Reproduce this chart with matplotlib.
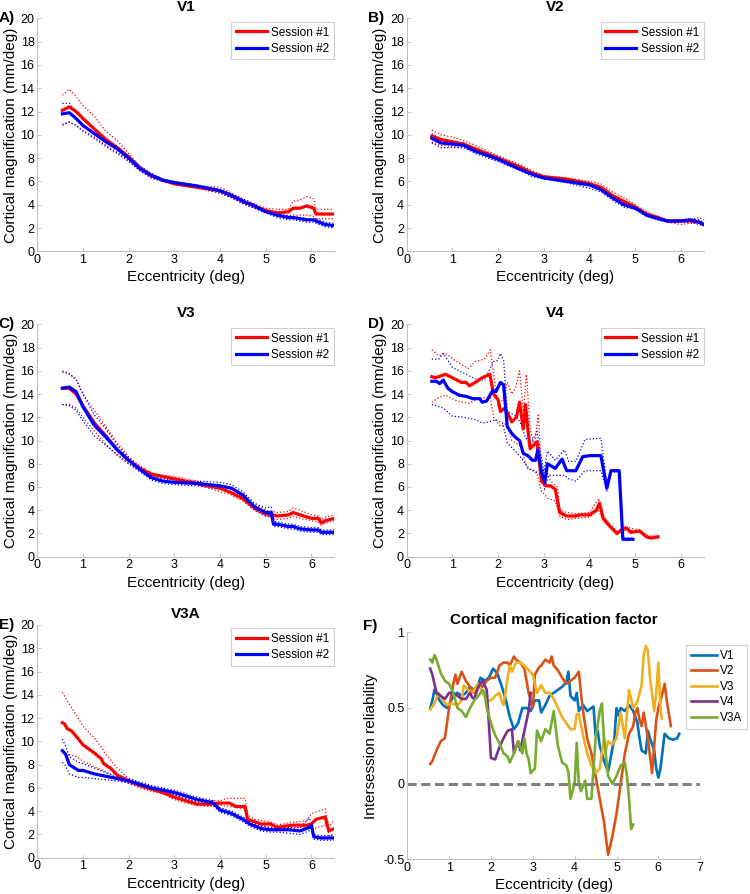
import matplotlib
matplotlib.use("Agg")
import matplotlib.pyplot as plt

plt.rcParams['font.family'] = ['Liberation Sans', 'DejaVu Sans']

# ---- V1 (panel A) ----
v1_x = [0.55, 0.7, 0.85, 1.0, 1.25, 1.5, 1.75, 2.0, 2.25, 2.5, 2.75, 3.0, 3.5, 4.0, 4.25,
        4.5, 4.75, 5.0, 5.25, 5.5, 5.6, 5.75, 5.9, 6.05, 6.1, 6.3, 6.5]
v1_s1 = [12.1, 12.4, 12.0, 11.4, 10.5, 9.6, 8.9, 8.1, 7.1, 6.5, 6.1, 5.8, 5.5, 5.2, 4.8,
         4.3, 3.9, 3.5, 3.3, 3.4, 3.7, 3.7, 3.9, 3.7, 3.2, 3.2, 3.2]
v1_s1_hi = [13.4, 13.9, 13.3, 12.5, 11.6, 10.3, 9.5, 8.4, 7.3, 6.6, 6.2, 5.9, 5.6, 5.5, 5.0,
            4.5, 4.1, 3.7, 3.6, 3.6, 4.3, 4.4, 4.7, 4.5, 3.6, 3.6, 3.6]
v1_s1_lo = [10.8, 11.1, 10.8, 10.4, 9.8, 9.1, 8.5, 7.8, 6.9, 6.3, 6.0, 5.7, 5.4, 5.0, 4.6,
            4.1, 3.7, 3.3, 3.1, 3.1, 3.1, 3.1, 3.1, 3.0, 2.8, 2.8, 2.8]
v1_s2 = [11.8, 11.9, 11.4, 10.8, 10.1, 9.4, 8.8, 8.0, 7.1, 6.5, 6.1, 5.9, 5.6, 5.2, 4.8,
         4.3, 3.9, 3.4, 3.1, 2.9, 2.9, 2.8, 2.7, 2.7, 2.6, 2.3, 2.2]
v1_s2_hi = [12.7, 12.7, 12.0, 11.3, 10.5, 9.7, 9.0, 8.2, 7.3, 6.7, 6.2, 6.0, 5.7, 5.3, 4.9,
            4.5, 4.0, 3.5, 3.2, 3.0, 3.0, 2.9, 2.8, 2.8, 2.8, 2.5, 2.4]
v1_s2_lo = [10.9, 11.1, 10.8, 10.3, 9.7, 9.0, 8.4, 7.7, 6.9, 6.3, 6.0, 5.8, 5.5, 5.0, 4.6,
            4.1, 3.7, 3.3, 2.9, 2.7, 2.7, 2.6, 2.5, 2.5, 2.4, 2.1, 2.0]

# ---- V2 (panel B) ----
v2_x = [0.55, 0.75, 1.0, 1.25, 1.5, 2.0, 2.5, 2.75, 3.0, 3.5, 4.0, 4.25, 4.5, 4.75, 5.0,
        5.25, 5.5, 5.7, 6.0, 6.2, 6.4, 6.5]
v2_s1 = [9.9, 9.6, 9.4, 9.2, 8.8, 8.0, 7.2, 6.7, 6.4, 6.2, 5.8, 5.5, 4.8, 4.3, 3.8,
         3.2, 2.9, 2.6, 2.6, 2.6, 2.5, 2.3]
v2_s1_hi = [10.4, 10.0, 9.8, 9.5, 9.1, 8.2, 7.4, 6.9, 6.5, 6.3, 6.0, 5.8, 5.1, 4.6, 4.0,
            3.4, 3.0, 2.7, 2.7, 2.7, 2.9, 2.7]
v2_s1_lo = [9.4, 9.1, 9.0, 8.9, 8.5, 7.8, 7.0, 6.6, 6.3, 6.1, 5.6, 5.3, 4.6, 4.1, 3.7,
            3.1, 2.8, 2.5, 2.3, 2.4, 2.4, 2.2]
v2_s2 = [9.7, 9.3, 9.2, 9.1, 8.6, 7.9, 7.0, 6.6, 6.3, 6.0, 5.7, 5.3, 4.6, 4.0, 3.7,
         3.1, 2.8, 2.6, 2.6, 2.7, 2.5, 2.3]
v2_s2_hi = [10.1, 9.6, 9.4, 9.3, 8.8, 8.1, 7.2, 6.8, 6.4, 6.2, 5.9, 5.5, 4.8, 4.2, 3.8,
            3.2, 2.9, 2.7, 2.7, 2.8, 2.7, 2.5]
v2_s2_lo = [9.3, 8.9, 8.9, 8.9, 8.4, 7.7, 6.9, 6.4, 6.2, 5.9, 5.4, 5.1, 4.4, 3.8, 3.6,
            3.0, 2.7, 2.5, 2.5, 2.5, 2.3, 2.2]

# ---- V3 (panel C) ----
v3_x = [0.55, 0.7, 0.85, 1.0, 1.25, 1.5, 1.75, 2.0, 2.25, 2.5, 2.75, 3.0, 3.5, 4.0, 4.25,
        4.5, 4.75, 5.0, 5.12, 5.17, 5.25, 5.5, 5.6, 5.75, 6.0, 6.15, 6.22, 6.3, 6.5]
v3_s1 = [14.5, 14.5, 14.0, 13.0, 11.5, 10.4, 9.2, 8.3, 7.6, 7.1, 6.9, 6.7, 6.3, 5.9, 5.5,
         5.0, 4.2, 3.7, 3.6, 3.6, 3.5, 3.6, 3.8, 3.6, 3.3, 3.3, 2.9, 3.1, 3.3]
v3_s1_hi = [16.0, 15.8, 15.2, 14.0, 12.6, 11.2, 9.8, 8.6, 7.8, 7.2, 7.0, 6.9, 6.5, 6.0, 5.8,
            5.3, 4.5, 4.0, 3.9, 3.9, 3.8, 3.9, 4.2, 4.0, 3.6, 3.5, 3.2, 3.4, 3.6]
v3_s1_lo = [13.1, 13.1, 12.8, 12.0, 10.8, 9.7, 8.7, 8.0, 7.4, 7.0, 6.8, 6.6, 6.2, 5.6, 5.3,
            4.8, 4.0, 3.5, 3.4, 3.3, 3.2, 3.3, 3.5, 3.3, 3.1, 3.0, 2.7, 2.9, 3.1]
v3_s2 = [14.5, 14.6, 14.2, 12.9, 11.3, 10.3, 9.2, 8.3, 7.5, 6.8, 6.5, 6.4, 6.3, 6.1, 5.9,
         5.3, 4.3, 3.8, 3.8, 2.8, 2.8, 2.6, 2.6, 2.4, 2.3, 2.3, 2.1, 2.1, 2.1]
v3_s2_hi = [15.9, 15.7, 15.3, 14.0, 12.2, 11.0, 9.6, 8.5, 7.7, 7.0, 6.7, 6.6, 6.5, 6.4, 6.2,
            5.6, 4.6, 4.2, 4.3, 3.0, 3.0, 2.8, 2.8, 2.6, 2.5, 2.5, 2.3, 2.3, 2.3]
v3_s2_lo = [13.1, 13.0, 12.6, 11.7, 10.4, 9.6, 8.8, 8.0, 7.3, 6.6, 6.3, 6.2, 6.1, 5.8, 5.6,
            5.0, 4.0, 3.5, 3.4, 2.6, 2.6, 2.4, 2.4, 2.2, 2.1, 2.1, 1.9, 1.9, 1.9]

# ---- V4 (panel D) ----
v4_s1_x = [0.55, 0.62, 0.7, 0.85, 1.0, 1.2, 1.3, 1.37, 1.5, 1.65, 1.82, 1.9, 2.0, 2.05, 2.15,
           2.3, 2.4, 2.47, 2.55, 2.6, 2.65, 2.7, 2.85, 2.95, 3.05, 3.15, 3.25, 3.35, 3.5, 3.7,
           3.8, 4.0, 4.15, 4.22, 4.3, 4.45, 4.6, 4.7, 4.8, 4.9, 5.1, 5.25, 5.35, 5.5]
v4_s1 = [15.5, 15.4, 15.5, 15.7, 15.4, 15.0, 15.0, 14.7, 15.0, 15.4, 15.7, 14.0, 13.5, 12.5, 12.8,
         11.6, 12.0, 13.3, 11.0, 13.1, 11.0, 9.3, 9.9, 6.5, 6.1, 6.1, 5.8, 3.8, 3.5, 3.5,
         3.6, 3.6, 4.0, 4.6, 3.3, 2.6, 2.0, 2.3, 2.5, 2.1, 2.2, 1.7, 1.6, 1.7]
v4_s1_hi_x = [0.55, 0.7, 0.85, 1.05, 1.35, 1.5, 1.7, 1.83, 1.9, 2.0, 2.1, 2.2, 2.3, 2.38, 2.47,
              2.55, 2.62, 2.7, 2.8, 2.88, 2.95, 3.05, 3.15, 3.3, 3.35, 3.5, 3.7, 4.0, 4.2, 4.3,
              4.45, 4.6, 4.7, 4.85, 5.1, 5.3, 5.5]
v4_s1_hi = [17.8, 17.3, 17.5, 16.9, 16.2, 16.8, 17.0, 17.8, 15.8, 13.0, 13.5, 15.0, 14.0, 14.5, 16.0,
            12.5, 15.7, 11.0, 9.5, 12.3, 7.5, 7.5, 6.5, 6.0, 4.0, 3.8, 3.7, 3.8, 5.0, 3.5,
            2.8, 2.2, 2.4, 2.5, 2.3, 1.8, 1.8]
v4_s1_lo_x = [0.55, 0.7, 0.85, 1.1, 1.35, 1.5, 1.7, 1.83, 1.9, 2.05, 2.2, 2.3, 2.5, 2.6, 2.7,
              2.85, 2.95, 3.1, 3.25, 3.35, 3.5, 3.7, 4.0, 4.2, 4.3, 4.45, 4.6, 4.7, 4.85, 5.1,
              5.3, 5.5]
v4_s1_lo = [13.3, 13.7, 13.9, 13.4, 13.2, 13.5, 13.7, 13.7, 12.0, 11.2, 11.5, 10.0, 9.5, 8.0, 7.5,
            7.2, 5.6, 5.0, 4.8, 3.5, 3.2, 3.3, 3.4, 4.0, 3.1, 2.5, 1.9, 2.2, 2.3, 2.1,
            1.6, 1.6]
v4_s2_x = [0.55, 0.65, 0.72, 0.8, 0.9, 1.0, 1.15, 1.3, 1.45, 1.6, 1.65, 1.75, 1.88, 1.95, 2.05,
           2.12, 2.2, 2.3, 2.4, 2.47, 2.55, 2.65, 2.75, 2.82, 2.87, 2.95, 3.02, 3.08, 3.25, 3.4,
           3.5, 3.7, 3.85, 4.0, 4.25, 4.38, 4.47, 4.65, 4.73, 4.95]
v4_s2 = [15.1, 15.1, 14.9, 15.2, 14.5, 14.2, 13.9, 13.8, 13.6, 13.6, 13.3, 13.4, 14.3, 14.2, 15.0,
         14.8, 11.2, 10.6, 10.2, 10.0, 8.9, 8.7, 8.3, 8.3, 9.2, 7.3, 6.4, 8.0, 7.6, 8.4,
         7.4, 7.4, 8.6, 8.7, 8.7, 5.9, 7.4, 7.4, 1.5, 1.5]
v4_s2_hi_x = [0.55, 0.7, 0.8, 1.0, 1.25, 1.5, 1.7, 1.9, 2.0, 2.05, 2.12, 2.2, 2.4, 2.5, 2.6,
              2.75, 2.85, 2.95, 3.0, 3.08, 3.25, 3.45, 3.55, 3.7, 3.9, 4.25, 4.38, 4.47, 4.65, 4.73,
              4.95]
v4_s2_hi = [17.0, 17.0, 17.5, 16.3, 15.8, 15.3, 15.2, 16.8, 16.9, 17.5, 16.9, 12.5, 12.1, 11.4, 10.2,
            10.0, 10.8, 8.5, 7.2, 9.1, 8.3, 9.2, 8.2, 8.2, 10.1, 10.2, 6.2, 7.5, 7.5, 1.6,
            1.6]
v4_s2_lo_x = [0.55, 0.8, 1.0, 1.25, 1.5, 1.65, 1.8, 1.95, 2.1, 2.2, 2.4, 2.55, 2.65, 2.8, 2.95,
              3.02, 3.1, 3.25, 3.45, 3.55, 3.7, 3.9, 4.25, 4.38, 4.47, 4.65, 4.73, 4.95]
v4_s2_lo = [13.1, 12.8, 12.1, 12.0, 11.8, 11.5, 11.6, 11.8, 11.5, 9.8, 9.0, 8.3, 7.6, 7.4, 7.0,
            5.8, 7.0, 7.0, 7.0, 6.7, 6.5, 7.4, 7.4, 5.6, 7.3, 7.3, 1.4, 1.4]

# ---- V3A (panel E) ----
v3a_s1_x = [0.55, 0.6, 0.65, 0.75, 0.9, 1.0, 1.25, 1.4, 1.45, 1.6, 1.75, 2.0, 2.25, 2.5, 2.75,
            3.0, 3.25, 3.5, 3.75, 4.0, 4.2, 4.35, 4.55, 4.6, 4.75, 4.9, 5.1, 5.25, 5.4, 5.6,
            5.9, 6.0, 6.1, 6.3, 6.38, 6.5]
v3a_s1 = [11.6, 11.5, 11.1, 10.9, 10.2, 9.7, 9.0, 8.5, 8.1, 7.7, 7.1, 6.6, 6.2, 5.9, 5.6,
          5.2, 4.9, 4.6, 4.6, 4.7, 4.7, 4.4, 4.4, 3.3, 3.1, 2.9, 2.9, 2.6, 2.7, 2.8,
          2.8, 2.9, 3.3, 3.5, 2.3, 2.5]
v3a_s1_hi_x = [0.55, 0.7, 0.85, 1.0, 1.25, 1.4, 1.5, 1.75, 2.0, 2.25, 2.5, 2.75, 3.0, 3.25, 3.5,
               3.75, 4.0, 4.15, 4.55, 4.6, 4.75, 4.9, 5.1, 5.25, 5.5, 5.75, 5.9, 6.0, 6.15, 6.3,
               6.38, 6.5]
v3a_s1_hi = [14.2, 13.2, 12.3, 11.3, 10.3, 9.5, 8.9, 7.7, 6.8, 6.4, 6.1, 5.8, 5.4, 5.1, 4.8,
             4.9, 4.9, 5.1, 5.1, 3.7, 3.3, 3.2, 3.1, 2.8, 3.0, 3.1, 3.2, 3.8, 4.0, 4.2,
             2.7, 3.2]
v3a_s1_lo_x = [0.55, 0.65, 0.85, 1.0, 1.25, 1.5, 1.75, 2.0, 2.25, 2.5, 2.75, 3.0, 3.25, 3.5, 3.75,
               4.0, 4.2, 4.55, 4.6, 4.75, 5.0, 5.25, 5.5, 5.75, 5.9, 6.0, 6.2, 6.35, 6.38, 6.5]
v3a_s1_lo = [9.0, 8.9, 8.7, 8.3, 7.8, 7.4, 6.8, 6.4, 6.0, 5.7, 5.5, 5.0, 4.7, 4.5, 4.4,
             4.5, 4.4, 4.2, 3.0, 2.9, 2.7, 2.4, 2.5, 2.6, 2.7, 2.4, 2.7, 2.8, 1.9, 2.0]
v3a_s2_x = [0.55, 0.62, 0.7, 0.9, 1.0, 1.25, 1.5, 1.75, 2.0, 2.25, 2.5, 2.75, 3.0, 3.25, 3.5,
            3.75, 3.85, 4.0, 4.25, 4.5, 4.65, 4.9, 5.1, 5.25, 5.5, 5.75, 5.95, 6.0, 6.05, 6.2,
            6.5]
v3a_s2 = [9.2, 8.9, 8.0, 7.5, 7.5, 7.2, 7.0, 6.8, 6.6, 6.3, 6.0, 5.8, 5.6, 5.3, 5.0,
          4.8, 4.7, 4.1, 3.8, 3.3, 2.9, 2.5, 2.4, 2.4, 2.4, 2.3, 2.6, 2.8, 1.8, 1.7,
          1.7]
v3a_s2_hi = [10.2, 9.6, 8.7, 8.2, 8.1, 7.7, 7.3, 7.0, 6.8, 6.5, 6.2, 6.0, 5.8, 5.5, 5.2,
             5.0, 4.9, 4.3, 4.0, 3.5, 3.1, 2.7, 2.6, 2.6, 2.6, 2.6, 3.4, 3.0, 2.0, 1.9,
             1.9]
v3a_s2_lo = [8.2, 7.9, 7.2, 6.9, 6.9, 6.8, 6.7, 6.6, 6.4, 6.1, 5.8, 5.6, 5.4, 5.1, 4.8,
             4.6, 4.5, 3.9, 3.6, 3.1, 2.7, 2.3, 2.2, 2.2, 2.1, 2.0, 2.3, 2.6, 1.6, 1.5,
             1.5]

# ---- Intersession reliability (panel F) ----
rel_labels = ['V1', 'V2', 'V3', 'V4', 'V3A']
rel_colors = ['#0072BD', '#D95319', '#EDB120', '#7E2F8E', '#77AC30']
rel_v1_x = [0.55, 0.6, 0.65, 0.7, 0.75, 0.85, 0.95, 1.0, 1.1, 1.2, 1.3, 1.4, 1.5, 1.6, 1.7,
            1.75, 1.85, 1.95, 2.05, 2.15, 2.25, 2.35, 2.45, 2.55, 2.65, 2.75, 2.85, 2.95, 3.05, 3.15,
            3.2, 3.3, 3.4, 3.5, 3.6, 3.7, 3.8, 3.85, 3.9, 4.0, 4.05, 4.1, 4.2, 4.3, 4.4,
            4.45, 4.5, 4.55, 4.6, 4.7, 4.8, 4.9, 4.95, 5.0, 5.05, 5.1, 5.2, 5.3, 5.4, 5.5,
            5.55, 5.6, 5.7, 5.75, 5.8, 5.9, 5.95, 6.0, 6.05, 6.15, 6.25, 6.35, 6.45, 6.5]
rel_v1 = [0.5, 0.55, 0.62, 0.6, 0.56, 0.52, 0.5, 0.52, 0.58, 0.6, 0.58, 0.6, 0.64, 0.62, 0.66,
          0.7, 0.68, 0.7, 0.76, 0.73, 0.65, 0.56, 0.44, 0.36, 0.4, 0.5, 0.5, 0.48, 0.55, 0.55,
          0.47, 0.52, 0.58, 0.6, 0.62, 0.64, 0.67, 0.74, 0.58, 0.55, 0.6, 0.48, 0.52, 0.48, 0.5,
          0.51, 0.32, 0.35, 0.25, 0.15, 0.08, 0.23, 0.3, 0.5, 0.45, 0.5, 0.48, 0.52, 0.48, 0.4,
          0.3, 0.22, 0.2, 0.35, 0.3, 0.22, 0.1, 0.04, 0.1, 0.33, 0.3, 0.29, 0.3, 0.33]
rel_v2_x = [0.55, 0.6, 0.7, 0.8, 0.9, 1.0, 1.1, 1.15, 1.2, 1.3, 1.4, 1.5, 1.6, 1.7, 1.8,
            1.9, 2.0, 2.1, 2.2, 2.3, 2.4, 2.45, 2.55, 2.6, 2.7, 2.8, 2.9, 3.0, 3.05, 3.15,
            3.2, 3.3, 3.4, 3.45, 3.5, 3.6, 3.7, 3.8, 3.9, 4.0, 4.1, 4.15, 4.2, 4.3, 4.4,
            4.5, 4.6, 4.7, 4.8, 4.9, 5.0, 5.1, 5.2, 5.3, 5.4, 5.45, 5.5, 5.55, 5.6, 5.65,
            5.75, 5.85, 5.95, 6.0, 6.1, 6.15, 6.2, 6.3]
rel_v2 = [0.13, 0.15, 0.22, 0.28, 0.3, 0.5, 0.66, 0.72, 0.66, 0.74, 0.68, 0.64, 0.6, 0.66, 0.64,
          0.68, 0.7, 0.7, 0.78, 0.8, 0.8, 0.78, 0.84, 0.82, 0.8, 0.76, 0.6, 0.5, 0.72, 0.77,
          0.78, 0.82, 0.8, 0.84, 0.78, 0.75, 0.7, 0.66, 0.68, 0.7, 0.74, 0.6, 0.48, 0.3, 0.2,
          0.05, -0.1, -0.25, -0.47, -0.35, -0.2, 0.0, 0.2, 0.33, 0.38, 0.47, 0.5, 0.42, 0.38, 0.47,
          0.3, 0.07, 0.42, 0.5, 0.6, 0.66, 0.55, 0.38]
rel_v3_x = [0.55, 0.65, 0.75, 0.85, 0.95, 1.05, 1.2, 1.3, 1.35, 1.45, 1.55, 1.6, 1.7, 1.8, 1.9,
            2.0, 2.1, 2.2, 2.25, 2.3, 2.4, 2.45, 2.5, 2.6, 2.7, 2.8, 2.9, 3.0, 3.1, 3.2,
            3.3, 3.4, 3.5, 3.6, 3.7, 3.8, 3.9, 4.0, 4.05, 4.1, 4.2, 4.3, 4.4, 4.5, 4.6,
            4.65, 4.7, 4.75, 4.8, 4.9, 5.0, 5.1, 5.2, 5.3, 5.4, 5.5, 5.6, 5.65, 5.7, 5.75,
            5.8, 5.9, 5.95, 6.0, 6.05, 6.08]
rel_v3 = [0.49, 0.53, 0.6, 0.55, 0.52, 0.53, 0.52, 0.55, 0.65, 0.62, 0.6, 0.62, 0.66, 0.6, 0.55,
          0.55, 0.58, 0.6, 0.55, 0.52, 0.7, 0.78, 0.74, 0.8, 0.8, 0.78, 0.75, 0.72, 0.6, 0.65,
          0.6, 0.6, 0.56, 0.5, 0.44, 0.4, 0.36, 0.36, 0.46, 0.46, 0.32, 0.2, 0.12, 0.07, 0.1,
          0.2, 0.3, 0.22, 0.28, 0.26, 0.3, 0.47, 0.3, 0.62, 0.5, 0.54, 0.65, 0.85, 0.91, 0.88,
          0.7, 0.48, 0.6, 0.8, 0.5, 0.43]
rel_v4_x = [0.55, 0.6, 0.7, 0.8, 0.9, 1.0, 1.1, 1.2, 1.3, 1.4, 1.5, 1.55, 1.6, 1.7, 1.8,
            1.9, 1.95, 2.0, 2.1, 2.2, 2.3, 2.4, 2.5, 2.55, 2.65, 2.7, 2.8, 2.9, 2.95]
rel_v4 = [0.76, 0.72, 0.6, 0.58, 0.56, 0.6, 0.6, 0.58, 0.56, 0.56, 0.6, 0.57, 0.56, 0.64, 0.68,
          0.62, 0.4, 0.17, 0.16, 0.24, 0.3, 0.35, 0.36, 0.2, 0.28, 0.22, 0.35, 0.48, 0.6]
rel_v3a_x = [0.55, 0.6, 0.65, 0.7, 0.8, 0.9, 1.0, 1.1, 1.2, 1.3, 1.4, 1.5, 1.6, 1.7, 1.8,
             1.85, 1.9, 2.0, 2.1, 2.2, 2.3, 2.4, 2.45, 2.55, 2.65, 2.75, 2.8, 2.85, 2.9, 2.95,
             3.05, 3.1, 3.2, 3.3, 3.4, 3.5, 3.6, 3.7, 3.8, 3.85, 3.9, 4.0, 4.05, 4.1, 4.15,
             4.25, 4.3, 4.4, 4.5, 4.6, 4.65, 4.7, 4.8, 4.9, 5.0, 5.1, 5.2, 5.25, 5.3, 5.35,
             5.4]
rel_v3a = [0.82, 0.8, 0.85, 0.82, 0.73, 0.68, 0.66, 0.6, 0.5, 0.48, 0.44, 0.5, 0.55, 0.58, 0.62,
           0.6, 0.5, 0.4, 0.32, 0.27, 0.2, 0.18, 0.14, 0.2, 0.28, 0.2, 0.3, 0.2, 0.16, 0.07,
           0.1, 0.35, 0.28, 0.36, 0.33, 0.48, 0.25, 0.14, 0.12, 0.08, -0.1, 0.0, 0.27, 0.0, -0.05,
           0.02, -0.1, -0.1, 0.3, 0.48, 0.53, 0.3, 0.05, 0.0, 0.05, 0.12, 0.14, 0.05, -0.1, -0.3,
           -0.27]

SPINE = '#c0c0c0'


def style_axes(ax):
    for side in ['top', 'right']:
        ax.spines[side].set_visible(False)
    for side in ['left', 'bottom']:
        ax.spines[side].set_color(SPINE)
        ax.spines[side].set_linewidth(0.8)
    ax.tick_params(direction='in', length=3, width=0.6, color=SPINE, labelsize=9, pad=2)


def cmf_panel(ax, title, letter, s1, s2):
    # s1, s2: (x, mean, hi_x, hi, lo_x, lo)
    for data, c in [(s1, 'red'), (s2, 'blue')]:
        x, m, hx, hi, lx, lo = data
        ax.plot(hx, hi, ':', color=c, lw=0.9)
        ax.plot(lx, lo, ':', color=c, lw=0.9)
    ax.plot(s1[0], s1[1], color='red', lw=2.3, label='Session #1')
    ax.plot(s2[0], s2[1], color='blue', lw=2.3, label='Session #2')
    ax.set_xlim(0, 6.5)
    ax.set_ylim(0, 20)
    ax.set_xticks(range(0, 7))
    ax.set_yticks(range(0, 21, 2))
    ax.set_xlabel('Eccentricity (deg)', fontsize=11, labelpad=3)
    ax.set_ylabel('Cortical magnification (mm/deg)', fontsize=11, labelpad=2)
    ax.set_title(title, fontsize=11, fontweight='bold', pad=5)
    style_axes(ax)
    leg = ax.legend(loc='upper right', bbox_to_anchor=(1.0, 0.985), borderaxespad=0,
                    fontsize=8.5, handlelength=2.6, fancybox=False, framealpha=1,
                    borderpad=0.4, labelspacing=0.35, handletextpad=0.4)
    leg.get_frame().set_edgecolor('#d0d0d0')
    leg.get_frame().set_linewidth(0.8)
    ax.text(-0.13, 1.0, letter, transform=ax.transAxes, fontsize=11, fontweight='bold',
            ha='left', va='center')


fig = plt.figure(figsize=(7.5, 8.94), dpi=100)
axA = fig.add_axes([0.0497, 0.7189, 0.396, 0.2606])
axB = fig.add_axes([0.5423, 0.7189, 0.396, 0.2606])
axC = fig.add_axes([0.0497, 0.3773, 0.396, 0.2599])
axD = fig.add_axes([0.5423, 0.3773, 0.396, 0.2599])
axE = fig.add_axes([0.0497, 0.0406, 0.396, 0.2603])
axF = fig.add_axes([0.5430, 0.0388, 0.3906, 0.2539])

cmf_panel(axA, 'V1', 'A)',
          (v1_x, v1_s1, v1_x, v1_s1_hi, v1_x, v1_s1_lo),
          (v1_x, v1_s2, v1_x, v1_s2_hi, v1_x, v1_s2_lo))
cmf_panel(axB, 'V2', 'B)',
          (v2_x, v2_s1, v2_x, v2_s1_hi, v2_x, v2_s1_lo),
          (v2_x, v2_s2, v2_x, v2_s2_hi, v2_x, v2_s2_lo))
cmf_panel(axC, 'V3', 'C)',
          (v3_x, v3_s1, v3_x, v3_s1_hi, v3_x, v3_s1_lo),
          (v3_x, v3_s2, v3_x, v3_s2_hi, v3_x, v3_s2_lo))
cmf_panel(axD, 'V4', 'D)',
          (v4_s1_x, v4_s1, v4_s1_hi_x, v4_s1_hi, v4_s1_lo_x, v4_s1_lo),
          (v4_s2_x, v4_s2, v4_s2_hi_x, v4_s2_hi, v4_s2_lo_x, v4_s2_lo))
cmf_panel(axE, 'V3A', 'E)',
          (v3a_s1_x, v3a_s1, v3a_s1_hi_x, v3a_s1_hi, v3a_s1_lo_x, v3a_s1_lo),
          (v3a_s2_x, v3a_s2, v3a_s2_x, v3a_s2_hi, v3a_s2_x, v3a_s2_lo))

# Panel F: reliability between sessions
rel_x = [rel_v1_x, rel_v2_x, rel_v3_x, rel_v4_x, rel_v3a_x]
rel_y = [rel_v1, rel_v2, rel_v3, rel_v4, rel_v3a]
for x, y, c, lab in zip(rel_x, rel_y, rel_colors, rel_labels):
    axF.plot(x, y, color=c, lw=1.9, label=lab)
axF.axhline(0, color='#808080', lw=2.2, ls=(0, (3, 1.5)))
axF.set_xlim(0, 7)
axF.set_ylim(-0.5, 1)
axF.set_xticks(range(0, 8))
axF.set_yticks([-0.5, 0, 0.5, 1])
axF.set_yticklabels(['-0.5', '0', '0.5', '1'])
axF.set_xlabel('Eccentricity (deg)', fontsize=11, labelpad=3)
axF.set_ylabel('Intersession reliability', fontsize=11, labelpad=4)
axF.set_title('Cortical magnification factor', fontsize=11, fontweight='bold', pad=6)
style_axes(axF)
legF = axF.legend(loc='upper left', bbox_to_anchor=(0.952, 0.944), borderaxespad=0,
                  fontsize=8.5, handlelength=2.2, fancybox=False, framealpha=1,
                  borderpad=0.4, labelspacing=0.3, handletextpad=0.3)
legF.get_frame().set_edgecolor('#d0d0d0')
legF.get_frame().set_linewidth(0.8)
axF.text(-0.15, 1.03, 'F)', transform=axF.transAxes, fontsize=11, fontweight='bold',
         ha='left', va='center')

fig.savefig('out.png', dpi=100)
